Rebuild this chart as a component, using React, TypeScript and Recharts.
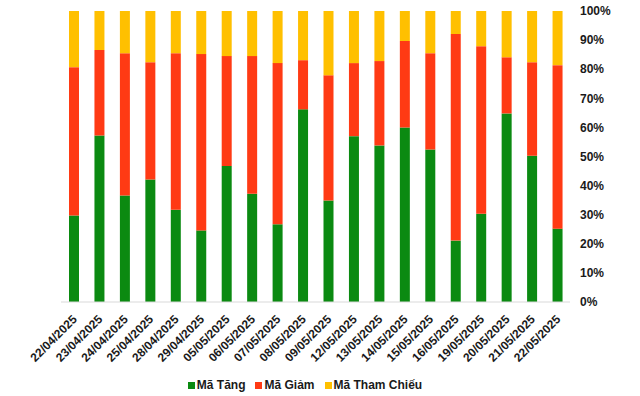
import { BarChart, Bar, XAxis, YAxis, Legend } from 'recharts';

const dates = [
  '22/04/2025', '23/04/2025', '24/04/2025', '25/04/2025', '28/04/2025',
  '29/04/2025', '05/05/2025', '06/05/2025', '07/05/2025', '08/05/2025',
  '09/05/2025', '12/05/2025', '13/05/2025', '14/05/2025', '15/05/2025',
  '16/05/2025', '19/05/2025', '20/05/2025', '21/05/2025', '22/05/2025',
];
const maTang = [29.7, 57.2, 36.6, 42.1, 31.7, 24.6, 46.7, 37.2, 26.7, 66.2, 34.9, 57.0, 53.8, 60.0, 52.4, 21.1, 30.3, 64.8, 50.3, 25.2];
const maGiam = [51.0, 29.4, 48.9, 40.3, 53.8, 60.6, 37.8, 47.3, 55.4, 16.9, 43.0, 25.1, 29.0, 29.7, 33.1, 71.0, 57.6, 19.3, 32.1, 56.2];
const maThamChieu = [19.3, 13.4, 14.5, 17.6, 14.5, 14.8, 15.5, 15.5, 17.9, 16.9, 22.1, 17.9, 17.2, 10.3, 14.5, 7.9, 12.1, 15.9, 17.6, 18.6];
const yTicks = [0, 10, 20, 30, 40, 50, 60, 70, 80, 90, 100];

const series = [
  { key: 'tang', name: 'Mã Tăng', color: '#0b8a11' },
  { key: 'giam', name: 'Mã Giảm', color: '#ff3a14' },
  { key: 'tham', name: 'Mã Tham Chiếu', color: '#ffc000' },
];

const data = dates.map((d, i) => ({
  date: d,
  tang: maTang[i],
  giam: maGiam[i],
  tham: maThamChieu[i],
}));

const FONT = '"Liberation Sans", Arial, sans-serif';

const DateTick = ({ x, y, payload }: any) => (
  <text
    x={x + 4}
    y={y + 10}
    transform={`rotate(-45, ${x + 4}, ${y + 10})`}
    textAnchor="end"
    fontFamily={FONT}
    fontSize={12}
    fontWeight="bold"
    fill="#1a1a1a"
  >
    {payload.value}
  </text>
);

const LegendContent = () => (
  <div
    style={{
      display: 'flex',
      justifyContent: 'center',
      gap: 10,
      fontFamily: FONT,
      fontSize: 12,
      fontWeight: 'bold',
      color: '#1a1a1a',
      lineHeight: '14px',
    }}
  >
    {series.map((s) => (
      <div key={s.key} style={{ display: 'flex', alignItems: 'center', gap: 2 }}>
        <span style={{ width: 7, height: 7, background: s.color, display: 'inline-block' }} />
        <span>{s.name}</span>
      </div>
    ))}
  </div>
);

export default function App() {
  return (
    <div style={{ width: 640, height: 396, background: '#fff' }}>
      <style>{'body{margin:0}'}</style>
      <BarChart
        width={640}
        height={396}
        data={data}
        margin={{ top: 11, right: 0, bottom: 4, left: 61 }}
        barSize={10}
      >
        <XAxis
          dataKey="date"
          interval={0}
          tick={<DateTick />}
          tickLine={false}
          axisLine={{ stroke: '#d9d9d9' }}
          height={76}
        />
        <YAxis
          orientation="right"
          domain={[0, 100]}
          ticks={yTicks}
          tickFormatter={(v) => `${v}%`}
          axisLine={false}
          tickLine={false}
          tickMargin={4}
          width={70}
          tick={{ fill: '#1a1a1a', fontSize: 12, fontWeight: 'bold', fontFamily: FONT }}
        />
        <Legend
          verticalAlign="bottom"
          content={<LegendContent />}
          wrapperStyle={{ left: 0, width: 610 }}
        />
        {series.map((s) => (
          <Bar
            key={s.key}
            dataKey={s.key}
            name={s.name}
            stackId="a"
            fill={s.color}
            isAnimationActive={false}
          />
        ))}
      </BarChart>
    </div>
  );
}
